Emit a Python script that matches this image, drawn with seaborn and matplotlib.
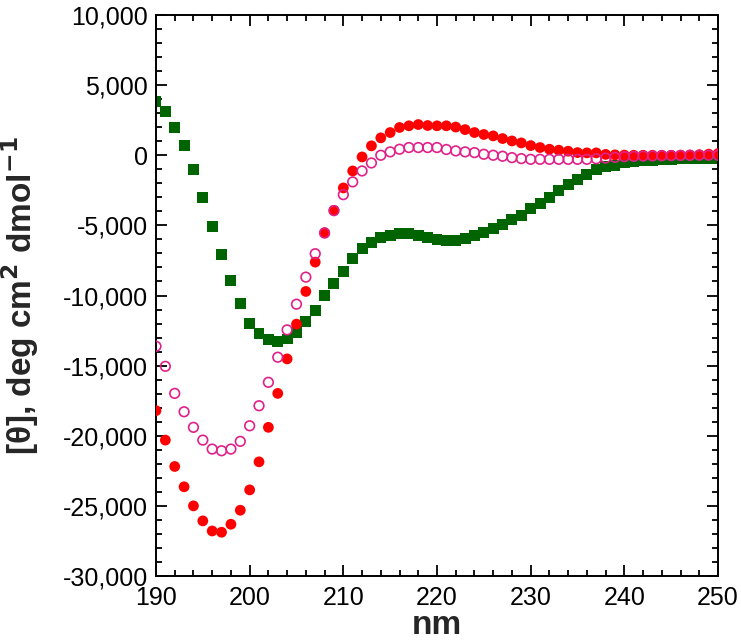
import matplotlib
matplotlib.use('Agg')
import matplotlib.pyplot as plt
from matplotlib.ticker import MultipleLocator, FuncFormatter
import seaborn as sns
import numpy as np
import pandas as pd

# wavelength, nm
wavelength = list(range(190, 251))

# green filled squares
green_vals = [3800, 3100, 1980, 670, -1020, -3020, -5050, -7070, -8930, -10600,
              -11970, -12690, -13170, -13290, -13100, -12620, -11830, -11070, -10000, -9170,
              -8260, -7380, -6670, -6190, -5880, -5710, -5600, -5600, -5710, -5850,
              -6000, -6060, -6070, -5950, -5710, -5480, -5240, -4930, -4600, -4290,
              -3810, -3410, -2980, -2500, -2070, -1740, -1360, -1020, -830, -710,
              -550, -480, -400, -360, -310, -290, -260, -250, -230, -210, -200]

# red filled circles
red_vals = [-18210, -20310, -22190, -23640, -25000, -26070, -26790, -26880, -26310, -25310,
            -23860, -21860, -19400, -16980, -14520, -12040, -9710, -7620, -5520, -3930,
            -2330, -1120, -120, 670, 1240, 1620, 1980, 2100, 2190, 2120,
            2100, 2100, 2010, 1830, 1620, 1480, 1380, 1190, 1020, 880,
            690, 550, 430, 360, 290, 190, 170, 170, 60, 30,
            10, 0, 0, 0, 0, 0, 10, 20, 40, 80, 120]

# magenta open circles
magenta_vals = [-13620, -15050, -16980, -18290, -19400, -20310, -20950, -21070, -20950, -20400,
                -19290, -17860, -16190, -14400, -12450, -10620, -8690, -7020, -5550, -3950,
                -2810, -1900, -1120, -550, 0, 240, 430, 550, 550, 550,
                550, 410, 310, 240, 190, 70, 0, -70, -170, -240,
                -290, -290, -290, -290, -290, -290, -290, -250, -200, -150,
                -100, -80, -60, -50, -40, -30, -20, -10, 0, 0, 0]

df = pd.DataFrame({'nm': wavelength, 'green': green_vals,
                   'red': red_vals, 'magenta': magenta_vals})

sns.set_style('ticks')
plt.rcParams['font.family'] = ['Liberation Sans', 'DejaVu Sans']

fig = plt.figure(figsize=(7.41, 6.41), dpi=100)
ax = fig.add_axes([0.2105, 0.1014, 0.7585, 0.8752])

sns.scatterplot(data=df, x='nm', y='green', ax=ax, marker='s', s=62,
                color='#006400', edgecolor='none', zorder=2)
sns.scatterplot(data=df, x='nm', y='red', ax=ax, marker='o', s=60,
                color='#ff0000', edgecolor='none', zorder=3)
sns.scatterplot(data=df, x='nm', y='magenta', ax=ax, marker='o', s=48,
                facecolor='none', edgecolor='#e0218a', linewidth=1.2, zorder=4)

ax.set_xlim(190, 250)
ax.set_ylim(-30000, 10000)
ax.xaxis.set_major_locator(MultipleLocator(10))
ax.xaxis.set_minor_locator(MultipleLocator(2))
ax.yaxis.set_major_locator(MultipleLocator(5000))
ax.yaxis.set_minor_locator(MultipleLocator(1000))
ax.yaxis.set_major_formatter(FuncFormatter(lambda v, p: f"{int(v):,}"))

ax.tick_params(which='both', direction='in', top=True, right=True,
               width=1.3, labelsize=18, colors='black')
ax.tick_params(which='major', length=8)
ax.tick_params(which='minor', length=4)
ax.tick_params(axis='x', which='major', pad=7)
ax.tick_params(axis='y', which='major', pad=6)
for sp in ax.spines.values():
    sp.set_linewidth(1.4)
    sp.set_color('black')

ax.set_xlabel('nm', fontsize=24, fontweight='bold')
ax.set_ylabel('[θ], deg cm$^{\\mathbf{2}}$ dmol$^{\\mathbf{-1}}$', fontsize=24,
              fontweight='bold')
ax.xaxis.set_label_coords(0.5, -0.060)
ax.yaxis.set_label_coords(-0.205, 0.5)

fig.savefig('out.png', dpi=100)
